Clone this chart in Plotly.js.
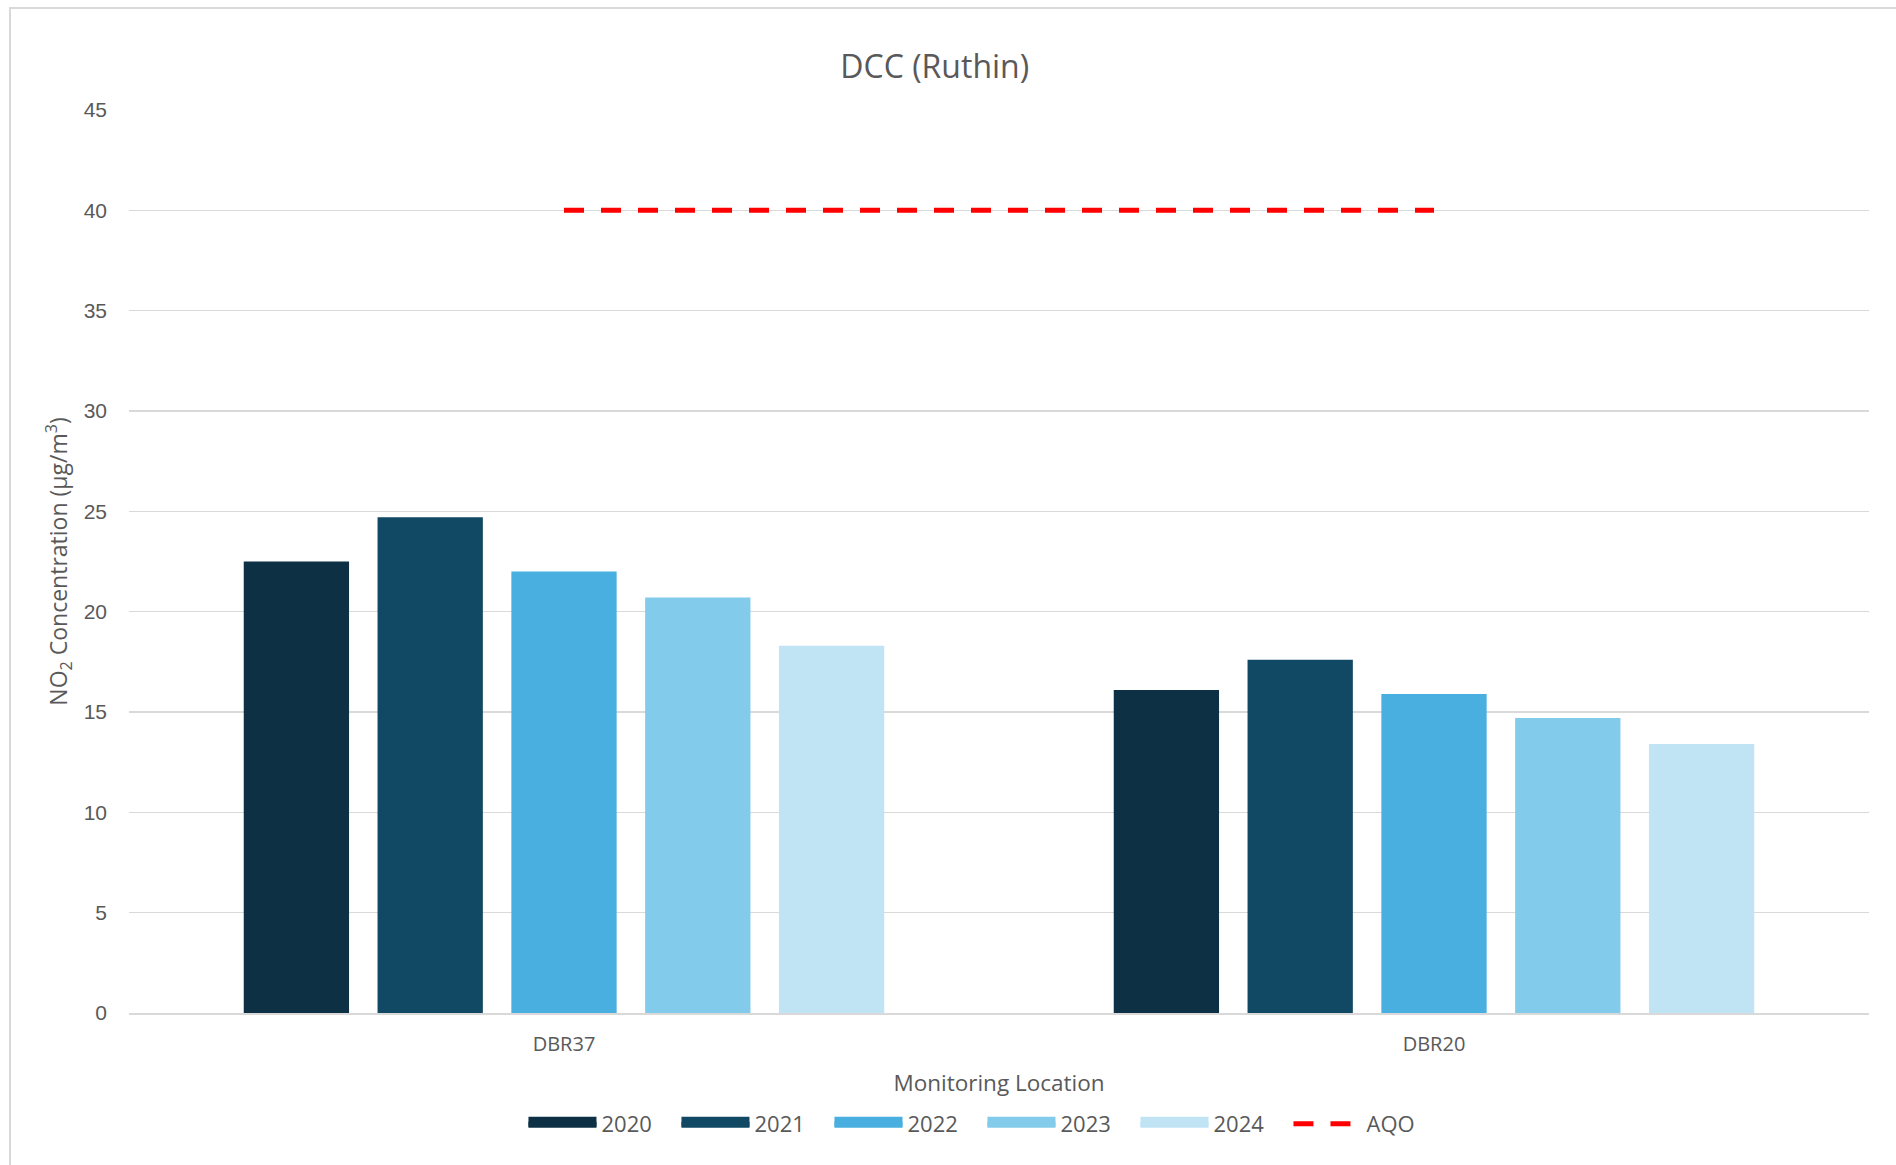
<!DOCTYPE html>
<html>
<head>
<meta charset="utf-8">
<script src="https://cdn.plot.ly/plotly-3.0.1.min.js"></script>
<style>
  html, body { margin: 0; padding: 0; background: #ffffff; overflow: hidden; }
  #chart { position: absolute; left: 0; top: 0; width: 1896px; height: 1165px; }
  #frame { position: absolute; left: 9px; top: 7px; width: 1900px; height: 1170px;
           border: 2px solid #d9d9d9; pointer-events: none; box-sizing: border-box; }
</style>
</head>
<body>
<div id="chart"></div>
<div id="frame"></div>
<script>
// ---- data ----
const locations = ["DBR37", "DBR20"];
const years = ["2020", "2021", "2022", "2023", "2024"];
const values2020 = [22.5, 16.1];
const values2021 = [24.7, 17.6];
const values2022 = [22.0, 15.9];
const values2023 = [20.7, 14.7];
const values2024 = [18.3, 13.4];
const aqoValues = [40, 40];
const yTicks = [0, 5, 10, 15, 20, 25, 30, 35, 40, 45];

const seriesValues = [values2020, values2021, values2022, values2023, values2024];
const colors = ["#0d3044", "#114863", "#49afe0", "#83cbeb", "#c1e4f5"];
const textColor = "#595959";

const traces = [];
years.forEach((yr, i) => {
  traces.push({
    type: "bar", x: locations, y: seriesValues[i], name: yr,
    marker: { color: colors[i] }, showlegend: false, legendgroup: yr,
    hoverinfo: "x+y+name"
  });
});
// legend proxies (wide swatches like the original)
years.forEach((yr, i) => {
  traces.push({
    type: "scatter", mode: "lines", x: [null], y: [null], name: yr,
    line: { color: colors[i], width: 10 }, fill: "toself", fillcolor: colors[i],
    legendgroup: yr, showlegend: true, hoverinfo: "skip"
  });
});
traces.push({
  type: "scatter", mode: "lines", x: locations, y: aqoValues, name: "AQO",
  line: { color: "#ff0000", width: 5, dash: "20px,17px" }
});

const layout = {
  width: 1896, height: 1165,
  paper_bgcolor: "#ffffff", plot_bgcolor: "#ffffff",
  margin: { l: 129, r: 27, t: 110, b: 152 },
  font: { family: "Open Sans, Liberation Sans, sans-serif", color: textColor },
  title: {
    text: "DCC (Ruthin)", x: 0.493, xanchor: "center", y: 0.943, yanchor: "middle",
    font: { size: 32, color: textColor, family: "Open Sans, sans-serif" }
  },
  barmode: "group", bargap: 0.231, bargroupgap: 0.213,
  xaxis: {
    type: "category", showgrid: false, showline: true, linecolor: "#d9d9d9", linewidth: 1.5,
    ticks: "", ticklabelstandoff: 12,
    tickfont: { size: 20, color: textColor, family: "Open Sans, sans-serif" },
    title: { text: "Monitoring Location", standoff: 19,
             font: { size: 22.5, color: textColor, family: "Open Sans, sans-serif" } },
    automargin: false
  },
  yaxis: {
    range: [0, 45], tickvals: yTicks, ticktext: yTicks.map(String),
    showgrid: true, gridcolor: "#d9d9d9", gridwidth: 1.5,
    zeroline: false, showline: false, ticks: "", ticklabelstandoff: 21,
    tickfont: { size: 21, color: textColor, family: "Liberation Sans, Arial, sans-serif" },
    title: { text: "NO<sub>2</sub> Concentration (µg/m<sup>3</sup>)", standoff: 9,
             font: { size: 23, color: textColor, family: "Open Sans, sans-serif" } },
    automargin: false
  },
  legend: {
    orientation: "h", x: 0.4905, xanchor: "center", y: -0.123, yanchor: "middle",
    font: { size: 22, color: textColor, family: "Open Sans, sans-serif" },
    itemwidth: 68, entrywidth: 70, entrywidthmode: "pixels",
    tracegroupgap: 0, bgcolor: "rgba(0,0,0,0)"
  },
  showlegend: true
};

Plotly.newPlot("chart", traces, layout, { displayModeBar: false, staticPlot: true });
</script>
</body>
</html>
